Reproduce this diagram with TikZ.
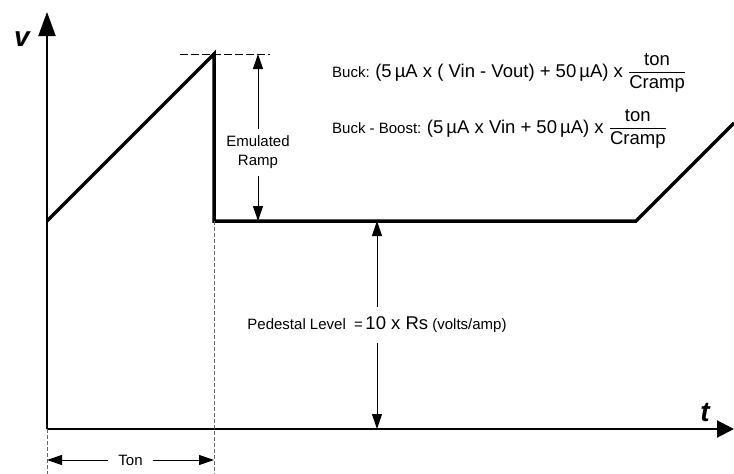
\documentclass[tikz,border=0pt]{standalone}
\usepackage{amsmath}
\usepackage{fontspec}
\setmainfont{Liberation Sans}
\usetikzlibrary{arrows.meta}

\newcommand{\smalltxt}{\fontsize{15}{19}\selectfont}
\newcommand{\bigtxt}{\fontsize{18.5}{22}\selectfont}

\begin{document}
\begin{tikzpicture}[x=1pt, y=-1pt,
  wave/.style={line width=3.5pt, line join=miter},
  axis/.style={line width=2pt, -{Triangle[length=24pt, width=17pt]}},
  dim/.style={line width=1pt, {Triangle[length=15pt, width=10pt]}-{Triangle[length=15pt, width=10pt]}},
  guide/.style={gray!80!black, line width=1pt, dash pattern=on 4pt off 2pt},
  tag/.style={fill=white, font=\smalltxt, align=center}]
  \useasboundingbox (0,0) rectangle (734,474);
  % axes
  \coordinate (origin) at (47,429);
  \coordinate (vtop) at (47,12);
  \coordinate (tend) at (734,429);
  \draw[axis] (origin) -- (vtop);
  \draw[axis, -{Triangle[length=17pt, width=17pt]}] (origin) -- (tend);
  \node (v) at (22,39) {\fontsize{28}{28}\selectfont\bfseries\itshape v};
  \node (t) at (705,412) {\fontsize{28}{28}\selectfont\bfseries\itshape t};
  % waveform
  \coordinate (start) at (47,221);
  \coordinate (peak) at (214,54);
  \coordinate (drop) at (214,221);
  \coordinate (knee) at (636,221);
  \coordinate (rise) at (734,123);
  \draw[wave] (start) -- (peak) -- (drop) -- (knee) -- (rise);
  % guides
  \coordinate (peakL) at (180,54);
  \coordinate (peakR) at (270,54);
  \draw[dash pattern=on 8pt off 3pt, line width=1pt] (peakL) -- (peakR);
  \draw[guide] (drop) -- (214,474);
  \draw[guide] (origin) -- (47,474);
  % emulated ramp
  \coordinate (emtop) at (258,54);
  \coordinate (embot) at (258,221);
  \draw[dim] (emtop) -- node[tag, pos=0.59, inner ysep=7pt] (ramp) {Emulated\\Ramp} (embot);
  % pedestal
  \coordinate (pedtop) at (377,221);
  \coordinate (pedbot) at (377,429);
  \draw[dim] (pedtop) -- node[tag, inner ysep=10pt] (ped)
    {Pedestal Level\ \ =\,{\bigtxt 10 x Rs} (volts/amp)} (pedbot);
  % on time
  \coordinate (tonL) at (47,460);
  \coordinate (tonR) at (214,460);
  \draw[dim] (tonL) -- node[tag, inner xsep=10pt] (ton) {Ton} (tonR);
  % formulas
  \node[anchor=base west, inner sep=0] (buck) at (332,77)
    {\smalltxt Buck: \bigtxt(5\,µA x ( Vin - Vout) + 50\,µA) x $\dfrac{\text{ton}}{\text{Cramp}}$};
  \node[anchor=base west, inner sep=0] (boost) at (332,133)
    {\smalltxt Buck - Boost: \bigtxt(5\,µA x Vin + 50\,µA) x $\dfrac{\text{ton}}{\text{Cramp}}$};
\end{tikzpicture}
\end{document}
